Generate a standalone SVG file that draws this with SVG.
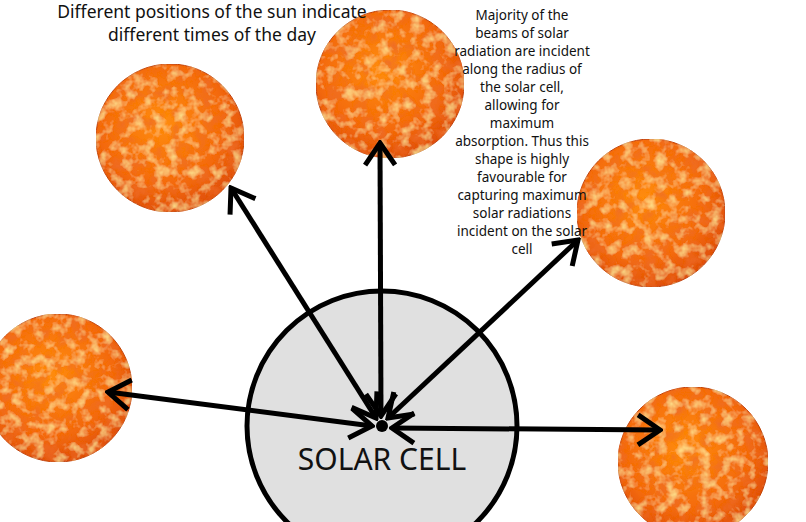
<svg xmlns="http://www.w3.org/2000/svg" width="806" height="522" viewBox="0 0 806 522">
<style>
.t{font-family:"Noto Sans","Open Sans",sans-serif;fill:#111;text-anchor:middle}
.a{stroke:#000;stroke-width:5;fill:none;marker-start:url(#h);marker-end:url(#h)}
.sun{fill:url(#sg);filter:url(#tex);stroke:#c0400a;stroke-width:1}
</style>
<defs>
<radialGradient id="sg" cx="45%" cy="40%" r="60%">
<stop offset="0" stop-color="#ff8c10"/><stop offset="0.7" stop-color="#f46a0a"/><stop offset="1" stop-color="#e0500a"/>
</radialGradient>
<filter id="tex" x="0" y="0" width="100%" height="100%">
<feTurbulence type="fractalNoise" baseFrequency="0.07" numOctaves="4" seed="5" result="n"/>
<feColorMatrix in="n" type="matrix" values="0 0 0 0 0.85  0 0 0 0 0.15  0 0 0 0 0.02  1.8 0 0 0 -0.75" result="c"/>
<feComposite in="c" in2="SourceGraphic" operator="in" result="cc"/>
<feTurbulence type="fractalNoise" baseFrequency="0.09" numOctaves="3" seed="11" result="n2"/>
<feColorMatrix in="n2" type="matrix" values="0 0 0 0 1  0 0 0 0 0.85  0 0 0 0 0.3  0 1.8 0 0 -0.85" result="y"/>
<feComposite in="y" in2="SourceGraphic" operator="in" result="yy"/>
<feMerge><feMergeNode in="SourceGraphic"/><feMergeNode in="cc"/><feMergeNode in="yy"/></feMerge>
</filter>
<marker id="h" viewBox="0 0 28 36" refX="25" refY="18" markerWidth="28" markerHeight="36" markerUnits="userSpaceOnUse" orient="auto-start-reverse">
<path d="M3,3 L25,18 L3,33" stroke="#000" stroke-width="5" fill="none"/>
</marker>
</defs>
<rect width="806" height="522" fill="#fff"/>
<g id="sun1"><circle class="sun" cx="170" cy="138" r="74"/></g>
<g id="sun2"><circle class="sun" cx="390" cy="84" r="74"/></g>
<g id="sun3"><circle class="sun" cx="651" cy="213" r="74"/></g>
<g id="sun4"><circle class="sun" cx="58" cy="388" r="74"/></g>
<g id="sun5"><circle class="sun" cx="693" cy="462" r="75"/></g>
<g id="solarcell">
<circle cx="382" cy="426" r="135" fill="#e0e0e0" stroke="#000" stroke-width="5"/>
<text class="t" x="382" y="470" font-size="30">SOLAR CELL</text>
</g>
<g id="connectors">
<line class="a" x1="376" y1="418" x2="231" y2="188"/>
<line class="a" x1="381" y1="416" x2="380" y2="143"/>
<line class="a" x1="388" y1="418" x2="578" y2="240"/>
<line class="a" x1="372" y1="426" x2="108" y2="392"/>
<line class="a" x1="392" y1="428" x2="660" y2="430"/>
<circle cx="382" cy="426" r="6" fill="#000"/>
</g>
<g id="title"><text class="t" font-size="17.5"><tspan x="212" y="18">Different positions of the sun indicate</tspan><tspan x="212" y="41">different times of the day</tspan></text></g>
<g id="note"><text class="t" font-size="13.5">
<tspan x="522" y="20">Majority of the</tspan><tspan x="522" y="38">beams of solar</tspan><tspan x="522" y="56">radiation are incident</tspan><tspan x="522" y="74">along the radius of</tspan><tspan x="522" y="92">the solar cell,</tspan><tspan x="522" y="110">allowing for</tspan><tspan x="522" y="128">maximum</tspan><tspan x="522" y="146">absorption. Thus this</tspan><tspan x="522" y="164">shape is highly</tspan><tspan x="522" y="182">favourable for</tspan><tspan x="522" y="200">capturing maximum</tspan><tspan x="522" y="218">solar radiations</tspan><tspan x="522" y="236">incident on the solar</tspan><tspan x="522" y="254">cell</tspan></text></g>
</svg>
